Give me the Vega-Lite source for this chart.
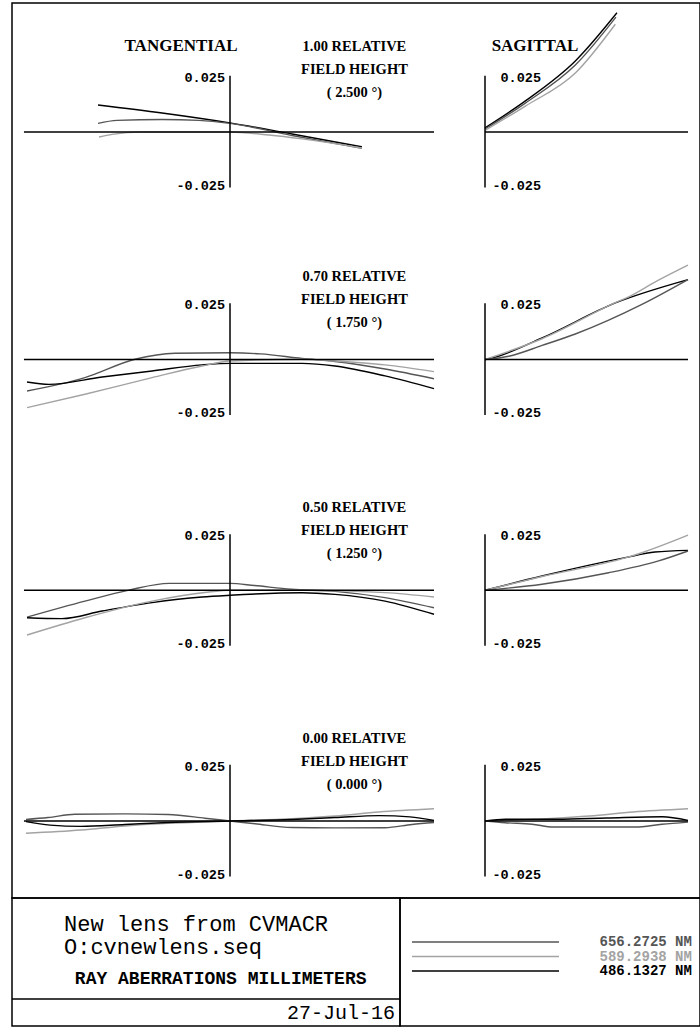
{
"$schema": "https://vega.github.io/schema/vega-lite/v6.json",
"padding": {"left": 10, "top": 2, "right": 2, "bottom": 7},
"background": "white",
"spacing": 0,
"bounds": "flush",
"config": {"view": {"stroke": "black", "strokeWidth": 1.5}, "axis": {"disable": true}, "concat": {"spacing": 0}, "line": {"interpolate": "monotone"}},
"datasets": {
"rays": [
{"row":1,"fan":"T","wl":"486.1327","x":-0.647,"y":0.0125},{"row":1,"fan":"T","wl":"486.1327","x":-0.333,"y":0.0088},{"row":1,"fan":"T","wl":"486.1327","x":0,"y":0.0042},{"row":1,"fan":"T","wl":"486.1327","x":0.304,"y":-0.0009},{"row":1,"fan":"T","wl":"486.1327","x":0.647,"y":-0.0069},
{"row":1,"fan":"T","wl":"656.2725","x":-0.647,"y":0.0040},{"row":1,"fan":"T","wl":"656.2725","x":-0.554,"y":0.0054},{"row":1,"fan":"T","wl":"656.2725","x":-0.333,"y":0.0058},{"row":1,"fan":"T","wl":"656.2725","x":-0.152,"y":0.0054},{"row":1,"fan":"T","wl":"656.2725","x":0,"y":0.0040},{"row":1,"fan":"T","wl":"656.2725","x":0.304,"y":-0.0016},{"row":1,"fan":"T","wl":"656.2725","x":0.647,"y":-0.0076},
{"row":1,"fan":"T","wl":"589.2938","x":-0.642,"y":-0.0023},{"row":1,"fan":"T","wl":"589.2938","x":-0.578,"y":-0.0011},{"row":1,"fan":"T","wl":"589.2938","x":-0.431,"y":0},{"row":1,"fan":"T","wl":"589.2938","x":0,"y":0},{"row":1,"fan":"T","wl":"589.2938","x":0.191,"y":-0.0014},{"row":1,"fan":"T","wl":"589.2938","x":0.353,"y":-0.0032},{"row":1,"fan":"T","wl":"589.2938","x":0.647,"y":-0.0074},
{"row":1,"fan":"S","wl":"486.1327","x":0,"y":0.0019},{"row":1,"fan":"S","wl":"486.1327","x":0.199,"y":0.0144},{"row":1,"fan":"S","wl":"486.1327","x":0.445,"y":0.0329},{"row":1,"fan":"S","wl":"486.1327","x":0.650,"y":0.0552},
{"row":1,"fan":"S","wl":"656.2725","x":0,"y":0.0014},{"row":1,"fan":"S","wl":"656.2725","x":0.199,"y":0.0134},{"row":1,"fan":"S","wl":"656.2725","x":0.445,"y":0.0310},{"row":1,"fan":"S","wl":"656.2725","x":0.645,"y":0.0532},
{"row":1,"fan":"S","wl":"589.2938","x":0,"y":0.0007},{"row":1,"fan":"S","wl":"589.2938","x":0.199,"y":0.0120},{"row":1,"fan":"S","wl":"589.2938","x":0.445,"y":0.0273},{"row":1,"fan":"S","wl":"589.2938","x":0.642,"y":0.0499},
{"row":2,"fan":"T","wl":"656.2725","x":-0.995,"y":-0.0146},{"row":2,"fan":"T","wl":"656.2725","x":-0.711,"y":-0.0084},{"row":2,"fan":"T","wl":"656.2725","x":-0.466,"y":0.0001},{"row":2,"fan":"T","wl":"656.2725","x":-0.270,"y":0.0029},{"row":2,"fan":"T","wl":"656.2725","x":0,"y":0.0031},{"row":2,"fan":"T","wl":"656.2725","x":0.15,"y":0.0026},{"row":2,"fan":"T","wl":"656.2725","x":0.353,"y":0.0005},{"row":2,"fan":"T","wl":"656.2725","x":0.515,"y":-0.0009},{"row":2,"fan":"T","wl":"656.2725","x":0.760,"y":-0.0044},{"row":2,"fan":"T","wl":"656.2725","x":1.0,"y":-0.0089},
{"row":2,"fan":"T","wl":"486.1327","x":-0.995,"y":-0.0104},{"row":2,"fan":"T","wl":"486.1327","x":-0.887,"y":-0.0115},{"row":2,"fan":"T","wl":"486.1327","x":-0.627,"y":-0.0081},{"row":2,"fan":"T","wl":"486.1327","x":-0.382,"y":-0.0053},{"row":2,"fan":"T","wl":"486.1327","x":-0.137,"y":-0.0025},{"row":2,"fan":"T","wl":"486.1327","x":0,"y":-0.0018},{"row":2,"fan":"T","wl":"486.1327","x":0.353,"y":-0.0018},{"row":2,"fan":"T","wl":"486.1327","x":0.515,"y":-0.0030},{"row":2,"fan":"T","wl":"486.1327","x":0.760,"y":-0.0076},{"row":2,"fan":"T","wl":"486.1327","x":1.0,"y":-0.0135},
{"row":2,"fan":"T","wl":"589.2938","x":-0.995,"y":-0.0223},{"row":2,"fan":"T","wl":"589.2938","x":-0.711,"y":-0.0161},{"row":2,"fan":"T","wl":"589.2938","x":-0.382,"y":-0.0084},{"row":2,"fan":"T","wl":"589.2938","x":-0.137,"y":-0.0030},{"row":2,"fan":"T","wl":"589.2938","x":0,"y":-0.0007},{"row":2,"fan":"T","wl":"589.2938","x":0.353,"y":0.0001},{"row":2,"fan":"T","wl":"589.2938","x":0.515,"y":-0.0007},{"row":2,"fan":"T","wl":"589.2938","x":0.760,"y":-0.0025},{"row":2,"fan":"T","wl":"589.2938","x":1.0,"y":-0.0056},
{"row":2,"fan":"S","wl":"486.1327","x":0,"y":0},{"row":2,"fan":"S","wl":"486.1327","x":0.034,"y":0.0007},{"row":2,"fan":"S","wl":"486.1327","x":0.281,"y":0.0100},{"row":2,"fan":"S","wl":"486.1327","x":0.642,"y":0.0262},{"row":2,"fan":"S","wl":"486.1327","x":1.0,"y":0.0370},
{"row":2,"fan":"S","wl":"589.2938","x":0,"y":0},{"row":2,"fan":"S","wl":"589.2938","x":0.281,"y":0.0096},{"row":2,"fan":"S","wl":"589.2938","x":0.642,"y":0.0263},{"row":2,"fan":"S","wl":"589.2938","x":0.708,"y":0.0290},{"row":2,"fan":"S","wl":"589.2938","x":0.85,"y":0.0365},{"row":2,"fan":"S","wl":"589.2938","x":1.0,"y":0.0437},
{"row":2,"fan":"S","wl":"656.2725","x":0,"y":0},{"row":2,"fan":"S","wl":"656.2725","x":0.117,"y":0.0015},{"row":2,"fan":"S","wl":"656.2725","x":0.281,"y":0.0065},{"row":2,"fan":"S","wl":"656.2725","x":0.445,"y":0.0118},{"row":2,"fan":"S","wl":"656.2725","x":0.773,"y":0.0255},{"row":2,"fan":"S","wl":"656.2725","x":1.0,"y":0.0370},
{"row":3,"fan":"T","wl":"656.2725","x":-0.995,"y":-0.0124},{"row":3,"fan":"T","wl":"656.2725","x":-0.711,"y":-0.0050},{"row":3,"fan":"T","wl":"656.2725","x":-0.495,"y":0.0001},{"row":3,"fan":"T","wl":"656.2725","x":-0.299,"y":0.0032},{"row":3,"fan":"T","wl":"656.2725","x":0,"y":0.0032},{"row":3,"fan":"T","wl":"656.2725","x":0.12,"y":0.0022},{"row":3,"fan":"T","wl":"656.2725","x":0.3,"y":0.0005},{"row":3,"fan":"T","wl":"656.2725","x":0.515,"y":-0.0005},{"row":3,"fan":"T","wl":"656.2725","x":0.760,"y":-0.0034},{"row":3,"fan":"T","wl":"656.2725","x":1.0,"y":-0.0081},
{"row":3,"fan":"T","wl":"486.1327","x":-0.995,"y":-0.0127},{"row":3,"fan":"T","wl":"486.1327","x":-0.824,"y":-0.0131},{"row":3,"fan":"T","wl":"486.1327","x":-0.627,"y":-0.0096},{"row":3,"fan":"T","wl":"486.1327","x":-0.382,"y":-0.0057},{"row":3,"fan":"T","wl":"486.1327","x":-0.137,"y":-0.0031},{"row":3,"fan":"T","wl":"486.1327","x":0,"y":-0.0023},{"row":3,"fan":"T","wl":"486.1327","x":0.353,"y":-0.0011},{"row":3,"fan":"T","wl":"486.1327","x":0.515,"y":-0.0019},{"row":3,"fan":"T","wl":"486.1327","x":0.760,"y":-0.0050},{"row":3,"fan":"T","wl":"486.1327","x":1.0,"y":-0.0111},
{"row":3,"fan":"T","wl":"589.2938","x":-0.995,"y":-0.0207},{"row":3,"fan":"T","wl":"589.2938","x":-0.711,"y":-0.0127},{"row":3,"fan":"T","wl":"589.2938","x":-0.382,"y":-0.0050},{"row":3,"fan":"T","wl":"589.2938","x":-0.103,"y":-0.0008},{"row":3,"fan":"T","wl":"589.2938","x":0,"y":0},{"row":3,"fan":"T","wl":"589.2938","x":0.353,"y":0},{"row":3,"fan":"T","wl":"589.2938","x":0.760,"y":-0.0011},{"row":3,"fan":"T","wl":"589.2938","x":1.0,"y":-0.0031},
{"row":3,"fan":"S","wl":"486.1327","x":0,"y":0},{"row":3,"fan":"S","wl":"486.1327","x":0.281,"y":0.0066},{"row":3,"fan":"S","wl":"486.1327","x":0.691,"y":0.0151},{"row":3,"fan":"S","wl":"486.1327","x":0.837,"y":0.0177},{"row":3,"fan":"S","wl":"486.1327","x":1.0,"y":0.0185},
{"row":3,"fan":"S","wl":"589.2938","x":0,"y":0},{"row":3,"fan":"S","wl":"589.2938","x":0.281,"y":0.0064},{"row":3,"fan":"S","wl":"589.2938","x":0.691,"y":0.0150},{"row":3,"fan":"S","wl":"589.2938","x":0.773,"y":0.0174},{"row":3,"fan":"S","wl":"589.2938","x":1.0,"y":0.0255},
{"row":3,"fan":"S","wl":"656.2725","x":0,"y":0},{"row":3,"fan":"S","wl":"656.2725","x":0.281,"y":0.0028},{"row":3,"fan":"S","wl":"656.2725","x":0.609,"y":0.0081},{"row":3,"fan":"S","wl":"656.2725","x":0.855,"y":0.0136},{"row":3,"fan":"S","wl":"656.2725","x":1.0,"y":0.0182},
{"row":4,"fan":"T","wl":"589.2938","x":-1.0,"y":-0.0057},{"row":4,"fan":"T","wl":"589.2938","x":-0.730,"y":-0.0042},{"row":4,"fan":"T","wl":"589.2938","x":-0.515,"y":-0.0023},{"row":4,"fan":"T","wl":"589.2938","x":-0.304,"y":-0.0011},{"row":4,"fan":"T","wl":"589.2938","x":0,"y":0},{"row":4,"fan":"T","wl":"589.2938","x":0.304,"y":0.0011},{"row":4,"fan":"T","wl":"589.2938","x":0.515,"y":0.0023},{"row":4,"fan":"T","wl":"589.2938","x":0.730,"y":0.0042},{"row":4,"fan":"T","wl":"589.2938","x":1.0,"y":0.0057},
{"row":4,"fan":"T","wl":"486.1327","x":-1.0,"y":-0.0003},{"row":4,"fan":"T","wl":"486.1327","x":-0.882,"y":-0.0019},{"row":4,"fan":"T","wl":"486.1327","x":-0.730,"y":-0.0025},{"row":4,"fan":"T","wl":"486.1327","x":-0.515,"y":-0.0016},{"row":4,"fan":"T","wl":"486.1327","x":-0.304,"y":-0.0007},{"row":4,"fan":"T","wl":"486.1327","x":0,"y":0},{"row":4,"fan":"T","wl":"486.1327","x":0.304,"y":0.0007},{"row":4,"fan":"T","wl":"486.1327","x":0.515,"y":0.0016},{"row":4,"fan":"T","wl":"486.1327","x":0.730,"y":0.0025},{"row":4,"fan":"T","wl":"486.1327","x":0.882,"y":0.0019},{"row":4,"fan":"T","wl":"486.1327","x":1.0,"y":0.0003},
{"row":4,"fan":"T","wl":"656.2725","x":-1.0,"y":0.0007},{"row":4,"fan":"T","wl":"656.2725","x":-0.892,"y":0.0016},{"row":4,"fan":"T","wl":"656.2725","x":-0.760,"y":0.0031},{"row":4,"fan":"T","wl":"656.2725","x":-0.515,"y":0.0033},{"row":4,"fan":"T","wl":"656.2725","x":-0.304,"y":0.0030},{"row":4,"fan":"T","wl":"656.2725","x":-0.123,"y":0.0013},{"row":4,"fan":"T","wl":"656.2725","x":0,"y":0},{"row":4,"fan":"T","wl":"656.2725","x":0.123,"y":-0.0013},{"row":4,"fan":"T","wl":"656.2725","x":0.304,"y":-0.0030},{"row":4,"fan":"T","wl":"656.2725","x":0.515,"y":-0.0032},{"row":4,"fan":"T","wl":"656.2725","x":0.760,"y":-0.0031},{"row":4,"fan":"T","wl":"656.2725","x":0.892,"y":-0.0016},{"row":4,"fan":"T","wl":"656.2725","x":1.0,"y":-0.0007},
{"row":4,"fan":"S","wl":"589.2938","x":0,"y":0},{"row":4,"fan":"S","wl":"589.2938","x":0.304,"y":0.0011},{"row":4,"fan":"S","wl":"589.2938","x":0.515,"y":0.0023},{"row":4,"fan":"S","wl":"589.2938","x":0.730,"y":0.0042},{"row":4,"fan":"S","wl":"589.2938","x":1.0,"y":0.0057},
{"row":4,"fan":"S","wl":"486.1327","x":0,"y":0},{"row":4,"fan":"S","wl":"486.1327","x":0.1,"y":0.0008},{"row":4,"fan":"S","wl":"486.1327","x":0.355,"y":0.0008},{"row":4,"fan":"S","wl":"486.1327","x":0.6,"y":0.0014},{"row":4,"fan":"S","wl":"486.1327","x":0.872,"y":0.0020},{"row":4,"fan":"S","wl":"486.1327","x":1.0,"y":0.0003},
{"row":4,"fan":"S","wl":"656.2725","x":0,"y":0},{"row":4,"fan":"S","wl":"656.2725","x":0.1,"y":-0.0008},{"row":4,"fan":"S","wl":"656.2725","x":0.232,"y":-0.0015},{"row":4,"fan":"S","wl":"656.2725","x":0.338,"y":-0.0028},{"row":4,"fan":"S","wl":"656.2725","x":0.74,"y":-0.0028},{"row":4,"fan":"S","wl":"656.2725","x":0.872,"y":-0.0015},{"row":4,"fan":"S","wl":"656.2725","x":1.0,"y":-0.0005}
],
"ticks": [{"v": 0.025, "label": "0.025"}, {"v": -0.025, "label": "-0.025"}],
"fields": [
{"row": 1, "lines": ["1.00  RELATIVE", "FIELD HEIGHT", "( 2.500 °)"]},
{"row": 2, "lines": ["0.70  RELATIVE", "FIELD HEIGHT", "( 1.750 °)"]},
{"row": 3, "lines": ["0.50  RELATIVE", "FIELD HEIGHT", "( 1.250 °)"]},
{"row": 4, "lines": ["0.00  RELATIVE", "FIELD HEIGHT", "( 0.000 °)"]}
],
"waves": [{"wl": "656.2725", "label": "656.2725 NM"}, {"wl": "589.2938", "label": "589.2938 NM"}, {"wl": "486.1327", "label": "486.1327 NM"}]
},
"vconcat": [
{
"width": 688, "height": 895,
"resolve": {"scale": {"x": "independent", "y": "independent"}},
"layer": [
{"layer": [
 {"data": {"name": "rays"}, "transform": [{"filter": "datum.row == 1 && datum.fan == 'T'"}], "mark": {"type": "line", "strokeWidth": 1.4},
  "encoding": {"x": {"field": "x", "type": "quantitative", "scale": {"domain": [-1.06863, 2.30392], "nice": false, "zero": false}}, "y": {"field": "y", "type": "quantitative", "scale": {"domain": [-0.35463, 0.059722], "nice": false, "zero": false}}, "color": {"field": "wl", "type": "nominal", "scale": {"domain": ["656.2725", "589.2938", "486.1327"], "range": ["#555555", "#a3a3a3", "#000000"]}, "legend": null}}},
 {"data": {"values": [{}]}, "mark": {"type": "rule", "color": "black", "strokeWidth": 1.5}, "encoding": {"x": {"datum": -1.01}, "x2": {"datum": 1.0}, "y": {"datum": 0}}},
 {"data": {"values": [{}]}, "mark": {"type": "rule", "color": "black", "strokeWidth": 1.5}, "encoding": {"x": {"datum": 0}, "y": {"datum": -0.0257}, "y2": {"datum": 0.026}}},
 {"data": {"name": "ticks"}, "mark": {"type": "text", "align": "right", "baseline": "middle", "dx": -5, "font": "Liberation Mono", "fontWeight": "bold", "fontSize": 13.5}, "encoding": {"x": {"datum": 0}, "y": {"field": "v", "type": "quantitative"}, "text": {"field": "label"}}},
 {"data": {"values": [{}]}, "mark": {"type": "text", "text": "TANGENTIAL", "align": "center", "baseline": "alphabetic", "font": "Liberation Serif", "fontWeight": "bold", "fontSize": 17}, "encoding": {"x": {"datum": -0.24}, "y": {"datum": 0.0375}}},
 {"data": {"name": "fields"}, "transform": [{"filter": "datum.row == 1"}], "mark": {"type": "text", "align": "center", "baseline": "alphabetic", "lineHeight": 23, "font": "Liberation Serif", "fontWeight": "bold", "fontSize": 14.5}, "encoding": {"x": {"datum": 0.61}, "y": {"datum": 0.0375}, "text": {"field": "lines"}}}
]},
{"layer": [
 {"data": {"name": "rays"}, "transform": [{"filter": "datum.row == 1 && datum.fan == 'S'"}], "mark": {"type": "line", "strokeWidth": 1.4},
  "encoding": {"x": {"field": "x", "type": "quantitative", "scale": {"domain": [-2.33005, 1.05911], "nice": false, "zero": false}}, "y": {"field": "y", "type": "quantitative", "scale": {"domain": [-0.35463, 0.059722], "nice": false, "zero": false}}, "color": {"field": "wl", "type": "nominal", "scale": {"domain": ["656.2725", "589.2938", "486.1327"], "range": ["#555555", "#a3a3a3", "#000000"]}, "legend": null}}},
 {"data": {"values": [{}]}, "mark": {"type": "rule", "color": "black", "strokeWidth": 1.5}, "encoding": {"x": {"datum": 0}, "x2": {"datum": 1.0}, "y": {"datum": 0}}},
 {"data": {"values": [{}]}, "mark": {"type": "rule", "color": "black", "strokeWidth": 1.5}, "encoding": {"x": {"datum": 0}, "y": {"datum": -0.0257}, "y2": {"datum": 0.026}}},
 {"data": {"name": "ticks"}, "mark": {"type": "text", "align": "right", "baseline": "middle", "dx": 56, "font": "Liberation Mono", "fontWeight": "bold", "fontSize": 13.5}, "encoding": {"x": {"datum": 0}, "y": {"field": "v", "type": "quantitative"}, "text": {"field": "label"}}},
 {"data": {"values": [{}]}, "mark": {"type": "text", "text": "SAGITTAL", "align": "center", "baseline": "alphabetic", "font": "Liberation Serif", "fontWeight": "bold", "fontSize": 17}, "encoding": {"x": {"datum": 0.246}, "y": {"datum": 0.0375}}}
]},
{"layer": [
 {"data": {"name": "rays"}, "transform": [{"filter": "datum.row == 2 && datum.fan == 'T'"}], "mark": {"type": "line", "strokeWidth": 1.4},
  "encoding": {"x": {"field": "x", "type": "quantitative", "scale": {"domain": [-1.06863, 2.30392], "nice": false, "zero": false}}, "y": {"field": "y", "type": "quantitative", "scale": {"domain": [-0.249306, 0.165046], "nice": false, "zero": false}}, "color": {"field": "wl", "type": "nominal", "scale": {"domain": ["656.2725", "589.2938", "486.1327"], "range": ["#555555", "#a3a3a3", "#000000"]}, "legend": null}}},
 {"data": {"values": [{}]}, "mark": {"type": "rule", "color": "black", "strokeWidth": 1.5}, "encoding": {"x": {"datum": -1.01}, "x2": {"datum": 1.0}, "y": {"datum": 0}}},
 {"data": {"values": [{}]}, "mark": {"type": "rule", "color": "black", "strokeWidth": 1.5}, "encoding": {"x": {"datum": 0}, "y": {"datum": -0.0257}, "y2": {"datum": 0.026}}},
 {"data": {"name": "ticks"}, "mark": {"type": "text", "align": "right", "baseline": "middle", "dx": -5, "font": "Liberation Mono", "fontWeight": "bold", "fontSize": 13.5}, "encoding": {"x": {"datum": 0}, "y": {"field": "v", "type": "quantitative"}, "text": {"field": "label"}}},
 {"data": {"name": "fields"}, "transform": [{"filter": "datum.row == 2"}], "mark": {"type": "text", "align": "center", "baseline": "alphabetic", "lineHeight": 23, "font": "Liberation Serif", "fontWeight": "bold", "fontSize": 14.5}, "encoding": {"x": {"datum": 0.61}, "y": {"datum": 0.0363}, "text": {"field": "lines"}}}
]},
{"layer": [
 {"data": {"name": "rays"}, "transform": [{"filter": "datum.row == 2 && datum.fan == 'S'"}], "mark": {"type": "line", "strokeWidth": 1.4},
  "encoding": {"x": {"field": "x", "type": "quantitative", "scale": {"domain": [-2.33005, 1.05911], "nice": false, "zero": false}}, "y": {"field": "y", "type": "quantitative", "scale": {"domain": [-0.249306, 0.165046], "nice": false, "zero": false}}, "color": {"field": "wl", "type": "nominal", "scale": {"domain": ["656.2725", "589.2938", "486.1327"], "range": ["#555555", "#a3a3a3", "#000000"]}, "legend": null}}},
 {"data": {"values": [{}]}, "mark": {"type": "rule", "color": "black", "strokeWidth": 1.5}, "encoding": {"x": {"datum": 0}, "x2": {"datum": 1.0}, "y": {"datum": 0}}},
 {"data": {"values": [{}]}, "mark": {"type": "rule", "color": "black", "strokeWidth": 1.5}, "encoding": {"x": {"datum": 0}, "y": {"datum": -0.0257}, "y2": {"datum": 0.026}}},
 {"data": {"name": "ticks"}, "mark": {"type": "text", "align": "right", "baseline": "middle", "dx": 56, "font": "Liberation Mono", "fontWeight": "bold", "fontSize": 13.5}, "encoding": {"x": {"datum": 0}, "y": {"field": "v", "type": "quantitative"}, "text": {"field": "label"}}}
]},
{"layer": [
 {"data": {"name": "rays"}, "transform": [{"filter": "datum.row == 3 && datum.fan == 'T'"}], "mark": {"type": "line", "strokeWidth": 1.4},
  "encoding": {"x": {"field": "x", "type": "quantitative", "scale": {"domain": [-1.06863, 2.30392], "nice": false, "zero": false}}, "y": {"field": "y", "type": "quantitative", "scale": {"domain": [-0.142454, 0.271898], "nice": false, "zero": false}}, "color": {"field": "wl", "type": "nominal", "scale": {"domain": ["656.2725", "589.2938", "486.1327"], "range": ["#555555", "#a3a3a3", "#000000"]}, "legend": null}}},
 {"data": {"values": [{}]}, "mark": {"type": "rule", "color": "black", "strokeWidth": 1.5}, "encoding": {"x": {"datum": -1.01}, "x2": {"datum": 1.0}, "y": {"datum": 0}}},
 {"data": {"values": [{}]}, "mark": {"type": "rule", "color": "black", "strokeWidth": 1.5}, "encoding": {"x": {"datum": 0}, "y": {"datum": -0.0257}, "y2": {"datum": 0.026}}},
 {"data": {"name": "ticks"}, "mark": {"type": "text", "align": "right", "baseline": "middle", "dx": -5, "font": "Liberation Mono", "fontWeight": "bold", "fontSize": 13.5}, "encoding": {"x": {"datum": 0}, "y": {"field": "v", "type": "quantitative"}, "text": {"field": "label"}}},
 {"data": {"name": "fields"}, "transform": [{"filter": "datum.row == 3"}], "mark": {"type": "text", "align": "center", "baseline": "alphabetic", "lineHeight": 23, "font": "Liberation Serif", "fontWeight": "bold", "fontSize": 14.5}, "encoding": {"x": {"datum": 0.61}, "y": {"datum": 0.0362}, "text": {"field": "lines"}}}
]},
{"layer": [
 {"data": {"name": "rays"}, "transform": [{"filter": "datum.row == 3 && datum.fan == 'S'"}], "mark": {"type": "line", "strokeWidth": 1.4},
  "encoding": {"x": {"field": "x", "type": "quantitative", "scale": {"domain": [-2.33005, 1.05911], "nice": false, "zero": false}}, "y": {"field": "y", "type": "quantitative", "scale": {"domain": [-0.142454, 0.271898], "nice": false, "zero": false}}, "color": {"field": "wl", "type": "nominal", "scale": {"domain": ["656.2725", "589.2938", "486.1327"], "range": ["#555555", "#a3a3a3", "#000000"]}, "legend": null}}},
 {"data": {"values": [{}]}, "mark": {"type": "rule", "color": "black", "strokeWidth": 1.5}, "encoding": {"x": {"datum": 0}, "x2": {"datum": 1.0}, "y": {"datum": 0}}},
 {"data": {"values": [{}]}, "mark": {"type": "rule", "color": "black", "strokeWidth": 1.5}, "encoding": {"x": {"datum": 0}, "y": {"datum": -0.0257}, "y2": {"datum": 0.026}}},
 {"data": {"name": "ticks"}, "mark": {"type": "text", "align": "right", "baseline": "middle", "dx": 56, "font": "Liberation Mono", "fontWeight": "bold", "fontSize": 13.5}, "encoding": {"x": {"datum": 0}, "y": {"field": "v", "type": "quantitative"}, "text": {"field": "label"}}}
]},
{"layer": [
 {"data": {"name": "rays"}, "transform": [{"filter": "datum.row == 4 && datum.fan == 'T'"}], "mark": {"type": "line", "strokeWidth": 1.4},
  "encoding": {"x": {"field": "x", "type": "quantitative", "scale": {"domain": [-1.06863, 2.30392], "nice": false, "zero": false}}, "y": {"field": "y", "type": "quantitative", "scale": {"domain": [-0.035648, 0.378704], "nice": false, "zero": false}}, "color": {"field": "wl", "type": "nominal", "scale": {"domain": ["656.2725", "589.2938", "486.1327"], "range": ["#555555", "#a3a3a3", "#000000"]}, "legend": null}}},
 {"data": {"values": [{}]}, "mark": {"type": "rule", "color": "black", "strokeWidth": 1.5}, "encoding": {"x": {"datum": -1.01}, "x2": {"datum": 1.0}, "y": {"datum": 0}}},
 {"data": {"values": [{}]}, "mark": {"type": "rule", "color": "black", "strokeWidth": 1.5}, "encoding": {"x": {"datum": 0}, "y": {"datum": -0.0257}, "y2": {"datum": 0.026}}},
 {"data": {"name": "ticks"}, "mark": {"type": "text", "align": "right", "baseline": "middle", "dx": -5, "font": "Liberation Mono", "fontWeight": "bold", "fontSize": 13.5}, "encoding": {"x": {"datum": 0}, "y": {"field": "v", "type": "quantitative"}, "text": {"field": "label"}}},
 {"data": {"name": "fields"}, "transform": [{"filter": "datum.row == 4"}], "mark": {"type": "text", "align": "center", "baseline": "alphabetic", "lineHeight": 23, "font": "Liberation Serif", "fontWeight": "bold", "fontSize": 14.5}, "encoding": {"x": {"datum": 0.61}, "y": {"datum": 0.0361}, "text": {"field": "lines"}}}
]},
{"layer": [
 {"data": {"name": "rays"}, "transform": [{"filter": "datum.row == 4 && datum.fan == 'S'"}], "mark": {"type": "line", "strokeWidth": 1.4},
  "encoding": {"x": {"field": "x", "type": "quantitative", "scale": {"domain": [-2.33005, 1.05911], "nice": false, "zero": false}}, "y": {"field": "y", "type": "quantitative", "scale": {"domain": [-0.035648, 0.378704], "nice": false, "zero": false}}, "color": {"field": "wl", "type": "nominal", "scale": {"domain": ["656.2725", "589.2938", "486.1327"], "range": ["#555555", "#a3a3a3", "#000000"]}, "legend": null}}},
 {"data": {"values": [{}]}, "mark": {"type": "rule", "color": "black", "strokeWidth": 1.5}, "encoding": {"x": {"datum": 0}, "x2": {"datum": 1.0}, "y": {"datum": 0}}},
 {"data": {"values": [{}]}, "mark": {"type": "rule", "color": "black", "strokeWidth": 1.5}, "encoding": {"x": {"datum": 0}, "y": {"datum": -0.0257}, "y2": {"datum": 0.026}}},
 {"data": {"name": "ticks"}, "mark": {"type": "text", "align": "right", "baseline": "middle", "dx": 56, "font": "Liberation Mono", "fontWeight": "bold", "fontSize": 13.5}, "encoding": {"x": {"datum": 0}, "y": {"field": "v", "type": "quantitative"}, "text": {"field": "label"}}}
]}
]
},
{
"spacing": 0,
"bounds": "flush",
"hconcat": [
 {"width": 388, "height": 128, "data": {"values": [{}]},
  "layer": [
   {"mark": {"type": "rule", "color": "black", "strokeWidth": 1.5}, "encoding": {"x": {"datum": 0, "scale": {"domain": [0, 1], "nice": false, "zero": false}}, "x2": {"datum": 1}, "y": {"datum": 0.211, "scale": {"domain": [0, 1], "nice": false, "zero": false}}}},
   {"mark": {"type": "text", "text": "New lens from CVMACR", "align": "left", "baseline": "middle", "font": "Liberation Mono", "fontSize": 22}, "encoding": {"x": {"datum": 0.134}, "y": {"datum": 0.797}}},
   {"mark": {"type": "text", "text": "O:cvnewlens.seq", "align": "left", "baseline": "middle", "font": "Liberation Mono", "fontSize": 22}, "encoding": {"x": {"datum": 0.134}, "y": {"datum": 0.617}}},
   {"mark": {"type": "text", "text": "RAY ABERRATIONS MILLIMETERS", "align": "left", "baseline": "middle", "font": "Liberation Mono", "fontWeight": "bold", "fontSize": 18}, "encoding": {"x": {"datum": 0.162}, "y": {"datum": 0.367}}},
   {"mark": {"type": "text", "text": "27-Jul-16", "align": "right", "baseline": "middle", "font": "Liberation Mono", "fontSize": 20}, "encoding": {"x": {"datum": 0.987}, "y": {"datum": 0.102}}}
  ]},
 {"width": 300, "height": 128, "data": {"name": "waves"},
  "layer": [
   {"mark": {"type": "rule", "strokeWidth": 1.3},
    "encoding": {"x": {"datum": 0.04, "scale": {"domain": [0, 1], "nice": false, "zero": false}}, "x2": {"datum": 0.53},
     "y": {"field": "wl", "type": "nominal", "sort": null, "scale": {"type": "point", "domain": ["656.2725", "589.2938", "486.1327"], "range": [44, 73], "padding": 0}},
     "color": {"field": "wl", "type": "nominal", "scale": {"domain": ["656.2725", "589.2938", "486.1327"], "range": ["#555555", "#a3a3a3", "#000000"]}, "legend": null}}},
   {"mark": {"type": "text", "align": "right", "baseline": "middle", "font": "Liberation Mono", "fontWeight": "bold", "fontSize": 14},
    "encoding": {"x": {"datum": 0.973}, "y": {"field": "wl", "type": "nominal", "sort": null}, "text": {"field": "label"},
     "color": {"field": "wl", "type": "nominal", "legend": null}}}
  ]}
]
}
]
}
